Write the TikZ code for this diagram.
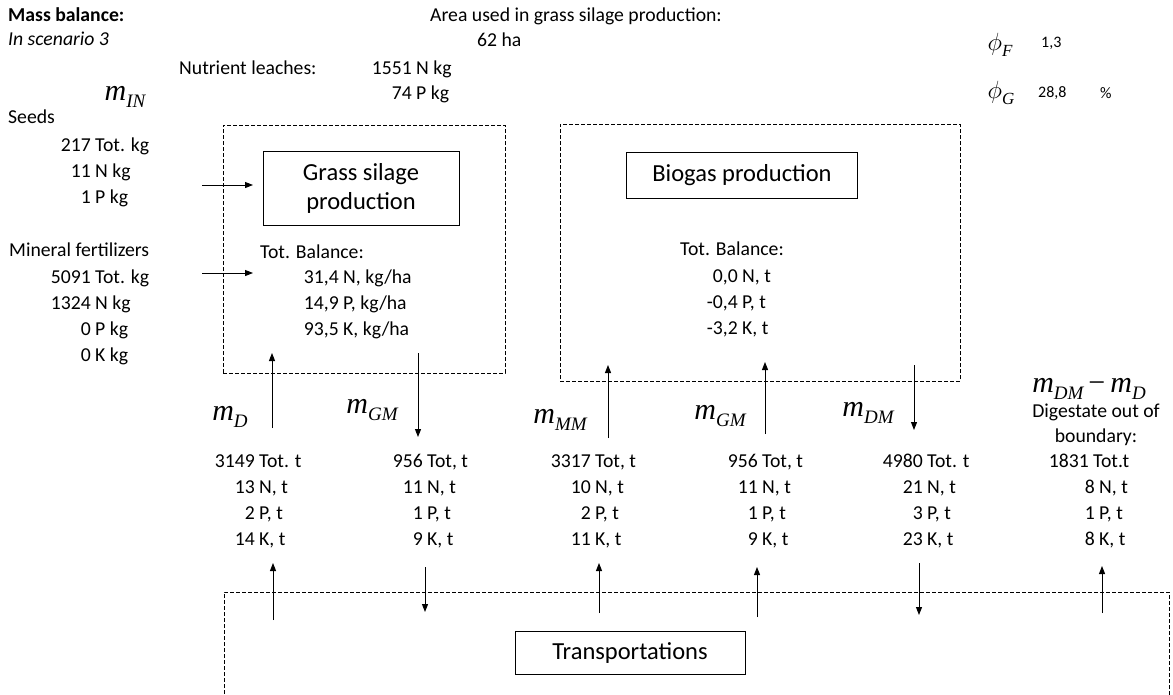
\documentclass[tikz,border=0pt]{standalone}
\usepackage{fontspec}
\setmainfont{Carlito}
\newfontfamily\tmsf{Liberation Serif}
\usetikzlibrary{arrows.meta}
\newcommand\mvar[1]{{\tmsf\itshape\fontsize{30}{30}\selectfont m\raisebox{-7pt}{\fontsize{19}{19}\selectfont #1}}}
\newcommand\phivar[1]{{\fontsize{27}{27}\selectfont$\phi$\raisebox{-6pt}{\tmsf\itshape\fontsize{17}{17}\selectfont #1}}}
\tikzset{
  txt/.style={inner sep=0pt, font=\fontsize{19.7}{23}\selectfont, text height=15.5pt, text depth=3pt},
  txtb/.style={txt, font=\fontsize{19.7}{23}\selectfont\bfseries},
  txti/.style={txt, font=\fontsize{19.7}{23}\selectfont\itshape},
  txts/.style={inner sep=0pt, font=\fontsize{16}{18}\selectfont},
  dbox/.style={draw, dash pattern=on 4pt off 2pt, line width=0.9pt, inner sep=0pt},
  pbox/.style={draw, line width=1pt, inner sep=0pt, align=center, font=\fontsize{24.5}{29}\selectfont},
  flow/.style={-{Triangle[length=8pt,width=6pt]}, line width=1pt},
  mlab/.style={inner sep=0pt}
}
\begin{document}
\begin{tikzpicture}[x=1pt,y=-1pt]
\useasboundingbox (0,0) rectangle (1173,694);
% header
\node[txtb, anchor=west] (title) at (8,15) {Mass balance:};
\node[txti, anchor=west] (scen) at (8,39) {In scenario 3};
\node[txt, anchor=west] (area) at (430,15) {Area used in grass silage production:};
\node[txt, anchor=west] (ha) at (477,40) {62 ha};
\node[txt, anchor=west] (leach) at (179,68) {Nutrient leaches:};
\node[txt, anchor=west] (leachN) at (416,68) {\llap{1551 }N kg};
\node[txt, anchor=west] (leachP) at (416,93) {\llap{74 }P kg};
\node[mlab] (phiF) at (1000,45) {\phivar{F}};
\node[txts, anchor=west] (phiFv) at (1041,43) {1,3};
\node[mlab] (phiG) at (1001,93) {\phivar{G}};
\node[txts, anchor=west] (phiGv) at (1038,93) {28,8};
\node[txts, anchor=west] (phiGu) at (1100,93) {\%};
% inputs
\node[mlab] (mIN) at (125,97) {\mvar{IN}};
\node[txt, anchor=west] (seeds) at (8,117) {Seeds};
\node[txt, anchor=west] (s1) at (95,145) {\llap{217 }Tot. kg};
\node[txt, anchor=west] (s2) at (95,171) {\llap{11 }N kg};
\node[txt, anchor=west] (s3) at (95,197) {\llap{1 }P kg};
\node[txt, anchor=west] (min) at (9,250) {Mineral fertilizers};
\node[txt, anchor=west] (f1) at (95,277) {\llap{5091 }Tot. kg};
\node[txt, anchor=west] (f2) at (95,303) {\llap{1324 }N kg};
\node[txt, anchor=west] (f3) at (95,329) {\llap{0 }P kg};
\node[txt, anchor=west] (f4) at (95,355) {\llap{0 }K kg};
\coordinate (sa0) at (202,185); \coordinate (sa1) at (253,185);
\coordinate (fa0) at (202,273); \coordinate (fa1) at (253,273);
\draw[flow] (sa0) -- (sa1);
\draw[flow] (fa0) -- (fa1);
% grass system
\node[dbox, minimum width=282pt, minimum height=248pt] (sys1) at (364,249) {};
\node[pbox, minimum width=196pt, minimum height=74pt] (grass) at (361,188) {Grass silage\\production};
\node[txt, anchor=west] (gbal) at (260,252) {Tot. Balance:};
\node[txt, anchor=west] (g1) at (343,277) {\llap{31,4 }N, kg/ha};
\node[txt, anchor=west] (g2) at (343,303) {\llap{14,9 }P, kg/ha};
\node[txt, anchor=west] (g3) at (343,329) {\llap{93,5 }K, kg/ha};
% biogas system
\node[dbox, minimum width=400pt, minimum height=257pt] (sys2) at (760,252.5) {};
\node[pbox, minimum width=231pt, minimum height=46pt] (biogas) at (742,175) {Biogas production};
\node[txt, anchor=west] (bbal) at (680,249) {Tot. Balance:};
\node[txt, anchor=west] (b1) at (742,276) {\llap{0,0 }N, t};
\node[txt, anchor=west] (b2) at (742,302) {\llap{-0,4 }P, t};
\node[txt, anchor=west] (b3) at (742,328) {\llap{-3,2 }K, t};
% middle flows
\coordinate (a1s) at (272,428); \coordinate (a1e) at (272,353);
\coordinate (a2s) at (418,353); \coordinate (a2e) at (418,437);
\coordinate (a3s) at (608,438); \coordinate (a3e) at (608,365);
\coordinate (a4s) at (765,434); \coordinate (a4e) at (765,362);
\coordinate (a5s) at (914,365); \coordinate (a5e) at (914,430);
\draw[flow] (a1s) -- (a1e);
\draw[flow] (a2s) -- (a2e);
\draw[flow] (a3s) -- (a3e);
\draw[flow] (a4s) -- (a4e);
\draw[flow] (a5s) -- (a5e);
\node[mlab] (mD) at (230,417) {\mvar{D}};
\node[mlab] (mGM) at (372,410) {\mvar{GM}};
\node[mlab] (mMM) at (560,420) {\mvar{MM}};
\node[mlab] (mGM2) at (720,416) {\mvar{GM}};
\node[mlab] (mDM) at (868,413) {\mvar{DM}};
\node[mlab] (mDMD) at (1089,389) {{\tmsf\itshape\fontsize{30}{30}\selectfont m\raisebox{-7pt}{\fontsize{19}{19}\selectfont DM}\,{\upshape −}\,m\raisebox{-7pt}{\fontsize{19}{19}\selectfont D}}};
\node[txt] (dig1) at (1096,411) {Digestate out of};
\node[txt] (dig2) at (1096,436) {boundary:};
% columns
\node[txt, anchor=west] (c1a) at (259,461) {\llap{3149 }Tot. t};
\node[txt, anchor=west] (c1b) at (259,487) {\llap{13 }N, t};
\node[txt, anchor=west] (c1c) at (259,513) {\llap{2 }P, t};
\node[txt, anchor=west] (c1d) at (259,539) {\llap{14 }K, t};
\node[txt, anchor=west] (c2a) at (427,461) {\llap{956 }Tot, t};
\node[txt, anchor=west] (c2b) at (427,487) {\llap{11 }N, t};
\node[txt, anchor=west] (c2c) at (427,513) {\llap{1 }P, t};
\node[txt, anchor=west] (c2d) at (427,539) {\llap{9 }K, t};
\node[txt, anchor=west] (c3a) at (595,461) {\llap{3317 }Tot, t};
\node[txt, anchor=west] (c3b) at (595,487) {\llap{10 }N, t};
\node[txt, anchor=west] (c3c) at (595,513) {\llap{2 }P, t};
\node[txt, anchor=west] (c3d) at (595,539) {\llap{11 }K, t};
\node[txt, anchor=west] (c4a) at (762,461) {\llap{956 }Tot, t};
\node[txt, anchor=west] (c4b) at (762,487) {\llap{11 }N, t};
\node[txt, anchor=west] (c4c) at (762,513) {\llap{1 }P, t};
\node[txt, anchor=west] (c4d) at (762,539) {\llap{9 }K, t};
\node[txt, anchor=west] (c5a) at (927,461) {\llap{4980 }Tot. t};
\node[txt, anchor=west] (c5b) at (927,487) {\llap{21 }N, t};
\node[txt, anchor=west] (c5c) at (927,513) {\llap{3 }P, t};
\node[txt, anchor=west] (c5d) at (927,539) {\llap{23 }K, t};
\node[txt, anchor=west] (c6a) at (1093,461) {\llap{1831 }Tot.t};
\node[txt, anchor=west] (c6b) at (1099,487) {\llap{8 }N, t};
\node[txt, anchor=west] (c6c) at (1099,513) {\llap{1 }P, t};
\node[txt, anchor=west] (c6d) at (1099,539) {\llap{8 }K, t};
% transport system
\coordinate (tl) at (224,700); \coordinate (tt1) at (224,592);
\coordinate (tt2) at (1169,592); \coordinate (tr) at (1169,700);
\begin{scope}
\clip (0,0) rectangle (1173,694);
\draw[dbox] (tl) -- (tt1) -- (tt2) -- (tr);
\end{scope}
\node[pbox, minimum width=230pt, minimum height=43pt] (trans) at (630,652.5) {Transportations};
\coordinate (b1s) at (273,620); \coordinate (b1e) at (273,563);
\coordinate (b2s) at (425,567); \coordinate (b2e) at (425,612);
\coordinate (b3s) at (599,613); \coordinate (b3e) at (599,563);
\coordinate (b4s) at (757,617); \coordinate (b4e) at (757,567);
\coordinate (b5s) at (919,563); \coordinate (b5e) at (919,615);
\coordinate (b6s) at (1102,613); \coordinate (b6e) at (1102,566);
\draw[flow] (b1s) -- (b1e);
\draw[flow] (b2s) -- (b2e);
\draw[flow] (b3s) -- (b3e);
\draw[flow] (b4s) -- (b4e);
\draw[flow] (b5s) -- (b5e);
\draw[flow] (b6s) -- (b6e);
\end{tikzpicture}
\end{document}
